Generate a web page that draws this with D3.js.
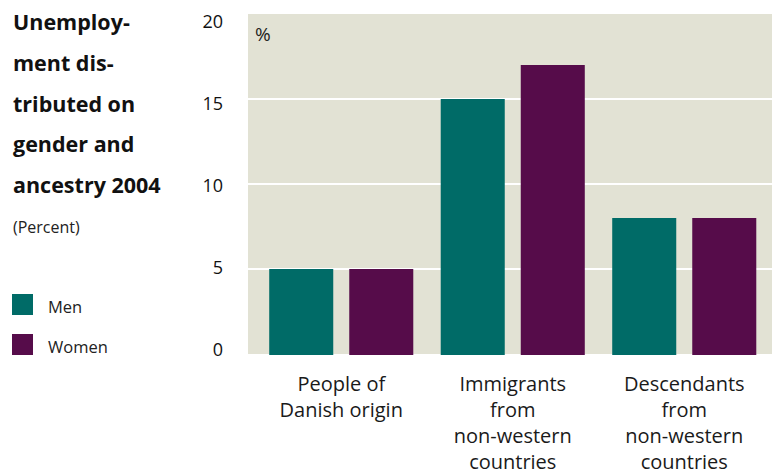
<!DOCTYPE html>
<html>
<head>
<meta charset="utf-8">
<script src="https://cdn.jsdelivr.net/npm/d3@7"></script>
<style>
  html, body { margin: 0; padding: 0; background: #fff; }
  svg { display: block; font-family: "Open Sans", "Noto Sans", sans-serif; }
</style>
</head>
<body>
<svg id="chart" width="772" height="475"></svg>
<script>
const categories = [
  ["People of", "Danish origin"],
  ["Immigrants", "from", "non-western", "countries"],
  ["Descendants", "from", "non-western", "countries"]
];
const categoryKeys = ["danish", "immigrants", "descendants"];
const seriesNames = ["Men", "Women"];
const menValues = [5, 15, 8];
const womenValues = [5, 17, 8];
const yTicks = [0, 5, 10, 15, 20];
const titleLines = ["Unemploy-", "ment dis-", "tributed on", "gender and", "ancestry 2004"];
const subtitle = "(Percent)";
const unitLabel = "%";
const colors = { Men: "#006b67", Women: "#560c4a" };

const svg = d3.select("#chart");

const plot = { left: 248, right: 772, top: 14, bottom: 354 };

const y = d3.scaleLinear().domain([0, 20]).range([plot.bottom, plot.top]);
// tick labels in the reference are spaced slightly tighter than the gridlines
const yLabel = d3.scaleLinear().domain([0, 20]).range([356, 28]);

const x0 = d3.scaleBand().domain(categoryKeys).range([255.5, 770]).paddingInner(0.16).paddingOuter(0.08);
const x1 = d3.scaleBand().domain(seriesNames).range([0, x0.bandwidth()]).paddingInner(0.2).paddingOuter(0);

// background
svg.append("rect")
  .attr("x", plot.left).attr("y", plot.top)
  .attr("width", plot.right - plot.left).attr("height", plot.bottom - plot.top)
  .attr("fill", "#e2e2d4");

// gridlines
svg.append("g").selectAll("line")
  .data(yTicks.filter(d => d > 0 && d < 20))
  .join("line")
  .attr("x1", plot.left).attr("x2", plot.right)
  .attr("y1", d => y(d)).attr("y2", d => y(d))
  .attr("stroke", "#ffffff").attr("stroke-width", 2);

// bars
const data = categoryKeys.map((k, i) => ({ key: k, Men: menValues[i], Women: womenValues[i] }));
const groups = svg.append("g").selectAll("g")
  .data(data).join("g")
  .attr("transform", d => `translate(${x0(d.key)},0)`);
groups.selectAll("rect")
  .data(d => seriesNames.map(s => ({ s, v: d[s] })))
  .join("rect")
  .attr("x", d => x1(d.s))
  .attr("width", x1.bandwidth())
  .attr("y", d => y(d.v))
  .attr("height", d => y(0) - y(d.v) + 1)
  .attr("fill", d => colors[d.s]);

// y tick labels
svg.append("g").selectAll("text")
  .data(yTicks).join("text")
  .attr("x", 223).attr("y", d => yLabel(d))
  .attr("text-anchor", "end")
  .attr("font-size", 18)
  .attr("fill", "#111")
  .text(d => d);

// unit label
svg.append("text").attr("x", 255).attr("y", 41)
  .attr("font-size", 19).attr("fill", "#222").text(unitLabel);

// category labels
const catG = svg.append("g").selectAll("text")
  .data(categoryKeys).join("text")
  .attr("text-anchor", "middle")
  .attr("font-size", 20)
  .attr("fill", "#1a1a1a")
  .attr("transform", d => `translate(${x0(d) + x0.bandwidth() / 2},0)`);
catG.selectAll("tspan")
  .data((d, i) => categories[i])
  .join("tspan")
  .attr("x", 0)
  .attr("y", (d, i) => 391 + i * 26)
  .text(d => d);

// title
svg.append("g").selectAll("text")
  .data(titleLines).join("text")
  .attr("x", 13).attr("y", (d, i) => 30 + i * 40.8)
  .attr("font-size", 21.5).attr("font-weight", "bold").attr("fill", "#111")
  .text(d => d);

svg.append("text").attr("x", 13).attr("y", 233)
  .attr("font-size", 16).attr("fill", "#222").text(subtitle);

// legend
const legend = svg.append("g").selectAll("g")
  .data(seriesNames).join("g")
  .attr("transform", (d, i) => `translate(12,${294 + i * 40})`);
legend.append("rect").attr("width", 21).attr("height", 21).attr("fill", d => colors[d]);
legend.append("text").attr("x", 36).attr("y", 19)
  .attr("font-size", 16.5).attr("fill", "#222").text(d => d);
</script>
</body>
</html>
